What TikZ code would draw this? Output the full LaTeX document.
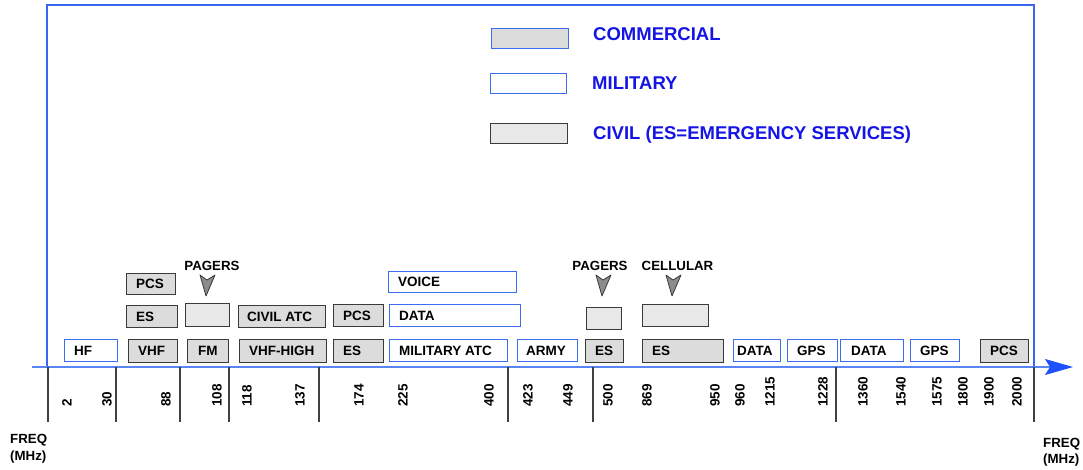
\documentclass[tikz,border=0pt]{standalone}
\usepackage{fontspec}
\setmainfont{Liberation Sans}
\usetikzlibrary{arrows.meta}

\definecolor{frameblue}{HTML}{3A66F0}
\definecolor{axisblue}{HTML}{5A86F5}
\definecolor{tipblue}{HTML}{1E50FF}
\definecolor{milblue}{HTML}{3C6CF0}
\definecolor{legblue}{HTML}{1414E6}
\definecolor{civedge}{HTML}{3A3A3A}
\definecolor{civfill}{HTML}{DCDCDC}
\definecolor{pagerfill}{HTML}{E8E8E8}
\definecolor{markgray}{HTML}{8C8C8C}
\definecolor{tickgray}{HTML}{404040}

% one frequency band: style, name, x1, y1, x2, y2, label, label indent
\newcommand\fband[8]{%
  \node[#1, minimum width={#5-#3}, minimum height={#6-#4}] (#2) at (#3,#4) {};
  \node[lbl] (#2-t) at ([xshift=#8]#2.west) {#7};}

\begin{document}
\begin{tikzpicture}[x=1pt,y=-1pt,
  band/.style={rectangle, inner sep=0pt, anchor=north west},
  milband/.style={band, draw=milblue, fill=white, line width=1.2pt},
  civband/.style={band, draw=civedge, fill=civfill, line width=1.3pt},
  pagerband/.style={band, draw=civedge, fill=pagerfill, line width=1.3pt},
  comband/.style={band, draw=milblue, fill=civfill, line width=1.3pt},
  lbl/.style={font=\bfseries\fontsize{13.5}{15}\selectfont, anchor=west, inner sep=0pt},
  freq/.style={font=\bfseries\fontsize{13.5}{15}\selectfont, rotate=90, anchor=west, inner sep=0pt},
  toplbl/.style={font=\bfseries\fontsize{13.3}{15}\selectfont, anchor=base, inner sep=0pt},
  axlbl/.style={font=\bfseries\fontsize{13.3}{15}\selectfont, anchor=base west, inner sep=0pt},
  legtext/.style={font=\bfseries\fontsize{18.5}{20}\selectfont, text=legblue, anchor=base west, inner sep=0pt},
  frame/.style={draw=frameblue, line width=1.5pt},
  axis/.style={draw=axisblue, line width=1.2pt, -{Stealth[length=28pt,width=16pt,inset=5pt,fill=tipblue,color=tipblue]}},
  tick/.style={draw=tickgray, line width=1.1pt},
  pagermark/.pic={\filldraw[fill=markgray, draw=civedge, line width=0.8pt, line join=round]
      (0,0) -- (-6,-21) -- (1,-16) -- (9,-21) -- cycle;}
]
\useasboundingbox (0,0) rectangle (1083,470);

% frame and frequency axis
\draw[frame] (47,367) -- (47,5) -- (1034,5) -- (1034,367);
\coordinate (axL) at (32,367);
\coordinate (axR) at (1073,367);
\draw[axis] (axL) -- (axR);
\foreach \x in {48,116,180,229,319,508,593,836,1034}
  \draw[tick] (\x,367) -- (\x,422);

% legend
\node[comband, minimum width=77, minimum height=20] (legC) at (491,28) {};
\node[milband, minimum width=76, minimum height=20] (legM) at (490,73) {};
\node[civband, fill=pagerfill, minimum width=77, minimum height=20] (legV) at (490,123) {};
\node[legtext] (legC-t) at (593,40.7) {COMMERCIAL};
\node[legtext] (legM-t) at (592,90) {MILITARY};
\node[legtext] (legV-t) at (593,139.3) {CIVIL (ES=EMERGENCY SERVICES)};

% bands on the lowest row
\fband{milband}{hf}{64}{339}{117}{361}{HF}{10pt}
\fband{civband}{vhf}{128}{339}{177}{362}{VHF}{10pt}
\fband{civband}{fm}{187}{339}{228}{362}{FM}{11pt}
\fband{civband}{vhfh}{239}{339}{326}{362}{VHF-HIGH}{10pt}
\fband{civband}{esa}{333}{339}{383}{362}{ES}{10pt}
\fband{milband}{matc}{389}{339}{507}{361}{MILITARY ATC}{10pt}
\fband{milband}{army}{517}{339}{577}{361}{ARMY}{9pt}
\fband{civband}{esb}{585}{339}{623}{362}{ES}{10pt}
\fband{civband}{esc}{642}{339}{723}{362}{ES}{10pt}
\fband{milband}{dataa}{733}{339}{780}{361}{DATA}{4pt}
\fband{milband}{gpsa}{787}{339}{837}{361}{GPS}{10pt}
\fband{milband}{datab}{840}{339}{903}{361}{DATA}{11pt}
\fband{milband}{gpsb}{910}{339}{959}{361}{GPS}{10pt}
\fband{civband}{pcsa}{980}{339}{1028}{362}{PCS}{10pt}

% second row
\fband{civband}{esd}{126}{305}{177}{327}{ES}{10pt}
\node[pagerband, minimum width=44, minimum height=23] (pga) at (185,303) {};
\fband{civband}{catc}{238}{305}{325}{327}{CIVIL ATC}{9pt}
\fband{civband}{pcsb}{333}{304}{383}{326}{PCS}{10pt}
\fband{milband}{datac}{389}{304}{520}{326}{DATA}{10pt}
\node[pagerband, minimum width=35, minimum height=22] (pgb) at (586,307) {};
\node[pagerband, minimum width=66, minimum height=22] (cell) at (642,304) {};

% third row
\fband{civband}{pcsc}{126}{273}{175}{294}{PCS}{10pt}
\fband{milband}{voice}{388}{271}{516}{292}{VOICE}{10pt}

% pager and cellular markers
\node[toplbl] (pgaL) at (212,270.7) {PAGERS};
\node[toplbl] (pgbL) at (600,270.7) {PAGERS};
\node[toplbl] (cellL) at (677.5,270.7) {CELLULAR};
\pic at (206,296) {pagermark};
\pic at (602,296) {pagermark};
\pic at (672,296) {pagermark};

% frequency marks in MHz
\foreach \f/\x in {2/67,30/107,88/166,108/217,118/247,137/300,174/359,225/403,
    400/489,423/528,449/568,500/608,869/647,950/715,960/740,1215/770,1228/823,
    1360/863,1540/901,1575/937,1800/963,1900/989,2000/1017}
  \node[freq] (f\f) at (\x,407) {\f};

% axis captions
\node[axlbl] (fqL1) at (10,443.3) {FREQ};
\node[axlbl] (fqL2) at (10,460) {(MHz)};
\node[axlbl] (fqR1) at (1043,447) {FREQ};
\node[axlbl] (fqR2) at (1043,463.5) {(MHz)};
\end{tikzpicture}
\end{document}
